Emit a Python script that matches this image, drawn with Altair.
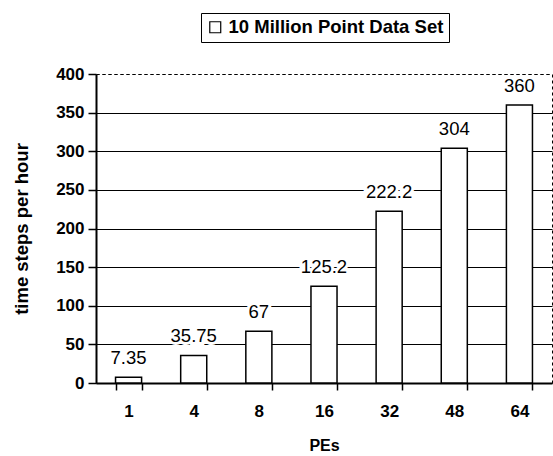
import altair as alt
import pandas as pd

# Time steps per hour for the 10 million point data set, by number of PEs
pes = ["1", "4", "8", "16", "32", "48", "64"]
steps_per_hour = [7.35, 35.75, 67, 125.2, 222.2, 304, 360]
series_name = "10 Million Point Data Set"
y_ticks = [0, 50, 100, 150, 200, 250, 300, 350, 400]

df = pd.DataFrame({
    "pe": pes,
    "rate": steps_per_hour,
    "label": [f"{v:g}" for v in steps_per_hour],
    "series": [series_name] * len(pes),
})

FONT = "Liberation Sans"

x_scale = alt.Scale(paddingInner=0.6, paddingOuter=0.3)
y_scale = alt.Scale(domain=[0, 400], nice=False)

x_axis = alt.Axis(
    title="PEs",
    labelAngle=0,
    tickBand="extent",
    tickSize=7,
    tickWidth=1.5,
    tickColor="black",
    domainColor="black",
    domainWidth=2,
    labelFont=FONT,
    labelFontSize=17,
    labelFontWeight="bold",
    labelColor="black",
    labelPadding=13,
    titleFont=FONT,
    titleFontSize=16,
    titleFontWeight="bold",
    titleColor="black",
    titlePadding=18,
    grid=False,
)

y_axis = alt.Axis(
    title="time steps per hour",
    values=y_ticks,
    labelOverlap=False,
    tickSize=8,
    tickWidth=1.5,
    tickColor="black",
    domainColor="black",
    domainWidth=2,
    labelFont=FONT,
    labelFontSize=17,
    labelFontWeight="bold",
    labelColor="black",
    labelPadding=4,
    titleFont=FONT,
    titleFontSize=18.5,
    titleFontWeight="bold",
    titleColor="black",
    titlePadding=24,
    grid=True,
    gridColor="black",
    gridWidth=1,
    gridDash=alt.condition("datum.value == 400", alt.value([3, 3]), alt.value([])),
)

# Same encodings in every layer so the shared axes merge cleanly
x_enc = alt.X("pe:N", sort=pes, scale=x_scale, axis=x_axis)
y_enc = alt.Y("rate:Q", scale=y_scale, axis=y_axis)

base = alt.Chart(df)

bars = base.mark_bar(stroke="black", strokeWidth=1.5).encode(
    x=x_enc,
    y=y_enc,
    fill=alt.Fill(
        "series:N",
        scale=alt.Scale(range=["white"]),
        legend=alt.Legend(
            title=None,
            orient="none",
            legendX=105,
            legendY=-61,
            direction="vertical",
            symbolType="square",
            symbolSize=120,
            symbolStrokeColor="black",
            symbolStrokeWidth=1.2,
            symbolFillColor="white",
            labelFont=FONT,
            labelFontSize=18.5,
            labelFontWeight="bold",
            labelColor="black",
            labelOffset=4,
            labelLimit=0,
            strokeColor="black",
            padding=5,
            fillColor="white",
        ),
    ),
)

# White halo behind the value labels so they interrupt the gridlines
halo = base.mark_text(
    baseline="alphabetic", dy=-13, font=FONT, fontSize=18.5,
    fill="white", stroke="white", strokeWidth=6,
).encode(x=x_enc, y=y_enc, text="label:N")

labels = base.mark_text(
    baseline="alphabetic", dy=-13, font=FONT, fontSize=18.5, color="black",
).encode(x=x_enc, y=y_enc, text="label:N")

chart = (
    alt.layer(bars, halo, labels)
    .properties(
        width=456,
        height=309,
        autosize=alt.AutoSizeParams(type="none"),
        padding={"left": 96, "top": 74, "right": 1, "bottom": 73},
        background="white",
    )
    .configure_view(stroke="black", strokeDash=[3, 3], strokeWidth=1)
)

chart.save("out.html", embed_options={"renderer": "svg", "actions": False})
